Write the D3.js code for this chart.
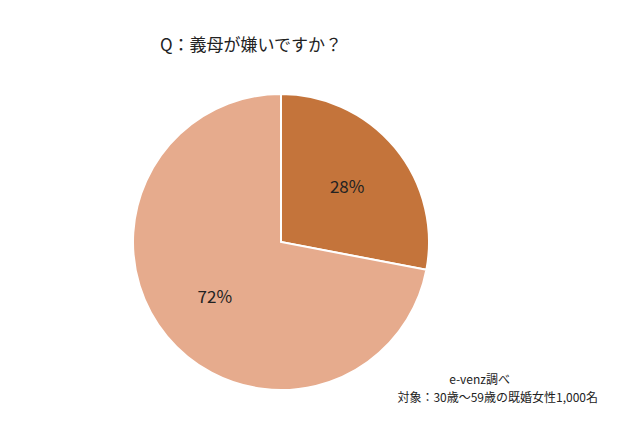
<!DOCTYPE html>
<html><head><meta charset="utf-8">
<script src="https://cdn.jsdelivr.net/npm/d3@7"></script>
<style>body{margin:0;background:#fff}</style>
</head><body>
<svg id="chart" width="640" height="440"></svg>
<script>
var labels = ["嫌い", "嫌いではない"];
var values = [28, 72];
var colors = ["#c4743b", "#e6ab8d"];

var svg = d3.select("#chart");
var font = "'Noto Sans CJK JP', 'Noto Sans', sans-serif";

svg.append("text").attr("x", 160).attr("y", 51)
    .attr("font-family", font).attr("font-size", 17).attr("fill", "#222")
    .text("Q：義母が嫌いですか？");

var r = 148;
var g = svg.append("g").attr("transform", "translate(281,242)");
var pie = d3.pie().sort(null)(values);
var arc = d3.arc().innerRadius(0).outerRadius(r);
var labelArc = d3.arc().innerRadius(r * 0.58).outerRadius(r * 0.58);

g.selectAll("path").data(pie).enter().append("path")
    .attr("d", arc)
    .attr("fill", function(d, i) { return colors[i]; })
    .attr("stroke", "#fff").attr("stroke-width", 2);

g.selectAll("text.lbl").data(pie).enter().append("text")
    .attr("class", "lbl")
    .attr("transform", function(d) { return "translate(" + labelArc.centroid(d) + ")"; })
    .attr("text-anchor", "middle").attr("dy", "0.35em")
    .attr("font-family", font).attr("font-size", 17).attr("fill", "#222")
    .text(function(d) { return d.data + "%"; });

var notes = ["e-venz調べ", "対象：30歳〜59歳の既婚女性1,000名"];
svg.selectAll("text.note").data(notes).enter().append("text")
    .attr("class", "note")
    .attr("x", function(d, i) { return i == 0 ? 510 : 598; })
    .attr("y", function(d, i) { return 384 + i * 18; })
    .attr("text-anchor", "end")
    .attr("font-family", font).attr("font-size", 12).attr("fill", "#222")
    .text(function(d) { return d; });
</script>
</body></html>
